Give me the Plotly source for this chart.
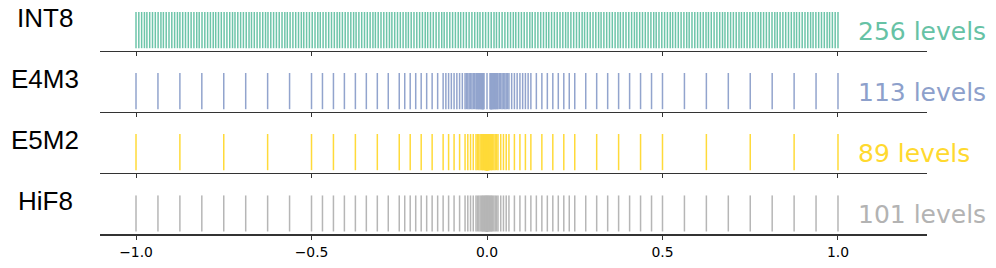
import plotly.graph_objects as go

FORMATS = ["INT8", "E4M3", "E5M2", "HiF8"]
COLORS = ["#66c2a5", "#8da0cb", "#ffd92f", "#b3b3b3"]
LEVEL_LABELS = ["256 levels", "113 levels", "89 levels", "101 levels"]
X_TICKS = [-1.0, -0.5, 0.0, 0.5, 1.0]
X_TICK_TEXT = ["\u22121.0", "\u22120.5", "0.0", "0.5", "1.0"]

INT8_LEVELS = [
    -1.000, -0.992, -0.984, -0.976, -0.969, -0.961, -0.953, -0.945, -0.937, -0.929,
    -0.922, -0.914, -0.906, -0.898, -0.890, -0.882, -0.875, -0.867, -0.859, -0.851,
    -0.843, -0.835, -0.827, -0.820, -0.812, -0.804, -0.796, -0.788, -0.780, -0.773,
    -0.765, -0.757, -0.749, -0.741, -0.733, -0.725, -0.718, -0.710, -0.702, -0.694,
    -0.686, -0.678, -0.671, -0.663, -0.655, -0.647, -0.639, -0.631, -0.624, -0.616,
    -0.608, -0.600, -0.592, -0.584, -0.576, -0.569, -0.561, -0.553, -0.545, -0.537,
    -0.529, -0.522, -0.514, -0.506, -0.498, -0.490, -0.482, -0.475, -0.467, -0.459,
    -0.451, -0.443, -0.435, -0.427, -0.420, -0.412, -0.404, -0.396, -0.388, -0.380,
    -0.373, -0.365, -0.357, -0.349, -0.341, -0.333, -0.325, -0.318, -0.310, -0.302,
    -0.294, -0.286, -0.278, -0.271, -0.263, -0.255, -0.247, -0.239, -0.231, -0.224,
    -0.216, -0.208, -0.200, -0.192, -0.184, -0.176, -0.169, -0.161, -0.153, -0.145,
    -0.137, -0.129, -0.122, -0.114, -0.106, -0.098, -0.090, -0.082, -0.075, -0.067,
    -0.059, -0.051, -0.043, -0.035, -0.027, -0.020, -0.012, -0.004,
    0.004, 0.012, 0.020, 0.027, 0.035, 0.043, 0.051, 0.059, 0.067, 0.075,
    0.082, 0.090, 0.098, 0.106, 0.114, 0.122, 0.129, 0.137, 0.145, 0.153,
    0.161, 0.169, 0.176, 0.184, 0.192, 0.200, 0.208, 0.216, 0.224, 0.231,
    0.239, 0.247, 0.255, 0.263, 0.271, 0.278, 0.286, 0.294, 0.302, 0.310,
    0.318, 0.325, 0.333, 0.341, 0.349, 0.357, 0.365, 0.373, 0.380, 0.388,
    0.396, 0.404, 0.412, 0.420, 0.427, 0.435, 0.443, 0.451, 0.459, 0.467,
    0.475, 0.482, 0.490, 0.498, 0.506, 0.514, 0.522, 0.529, 0.537, 0.545,
    0.553, 0.561, 0.569, 0.576, 0.584, 0.592, 0.600, 0.608, 0.616, 0.624,
    0.631, 0.639, 0.647, 0.655, 0.663, 0.671, 0.678, 0.686, 0.694, 0.702,
    0.710, 0.718, 0.725, 0.733, 0.741, 0.749, 0.757, 0.765, 0.773, 0.780,
    0.788, 0.796, 0.804, 0.812, 0.820, 0.827, 0.835, 0.843, 0.851, 0.859,
    0.867, 0.875, 0.882, 0.890, 0.898, 0.906, 0.914, 0.922, 0.929, 0.937,
    0.945, 0.953, 0.961, 0.969, 0.976, 0.984, 0.992, 1.000,
]

E4M3_LEVELS = [
    -1.0, -0.9375, -0.875, -0.8125, -0.75, -0.6875, -0.625, -0.5625, -0.5,
    -0.4688, -0.4375, -0.4063, -0.375, -0.3438, -0.3125, -0.2813, -0.25,
    -0.2344, -0.2188, -0.2031, -0.1875, -0.1719, -0.1563, -0.1406, -0.125,
    -0.1172, -0.1094, -0.1016, -0.0938, -0.0859, -0.0781, -0.0703, -0.0625,
    -0.0586, -0.0547, -0.0508, -0.0469, -0.0430, -0.0391, -0.0352, -0.0313,
    -0.0293, -0.0273, -0.0254, -0.0234, -0.0215, -0.0195, -0.0176, -0.0156,
    -0.0146, -0.0137, -0.0127, -0.0117, -0.0107, -0.0098, -0.0088,
    0.0,
    0.0088, 0.0098, 0.0107, 0.0117, 0.0127, 0.0137, 0.0146,
    0.0156, 0.0176, 0.0195, 0.0215, 0.0234, 0.0254, 0.0273, 0.0293,
    0.0313, 0.0352, 0.0391, 0.0430, 0.0469, 0.0508, 0.0547, 0.0586,
    0.0625, 0.0703, 0.0781, 0.0859, 0.0938, 0.1016, 0.1094, 0.1172,
    0.125, 0.1406, 0.1563, 0.1719, 0.1875, 0.2031, 0.2188, 0.2344,
    0.25, 0.2813, 0.3125, 0.3438, 0.375, 0.4063, 0.4375, 0.4688,
    0.5, 0.5625, 0.625, 0.6875, 0.75, 0.8125, 0.875, 0.9375, 1.0,
]

E5M2_LEVELS = [
    -1.0, -0.875, -0.75, -0.625, -0.5, -0.4375, -0.375, -0.3125, -0.25,
    -0.2188, -0.1875, -0.1563, -0.125, -0.1094, -0.0938, -0.0781, -0.0625,
    -0.0547, -0.0469, -0.0391, -0.0313, -0.0273, -0.0234, -0.0195, -0.0156,
    -0.0137, -0.0117, -0.0098, -0.0078, -0.0068, -0.0059, -0.0049, -0.0039,
    -0.0034, -0.0029, -0.0024, -0.0020, -0.0017, -0.0015, -0.0012, -0.0010,
    -0.0009, -0.0007, -0.0006,
    0.0,
    0.0006, 0.0007, 0.0009,
    0.0010, 0.0012, 0.0015, 0.0017, 0.0020, 0.0024, 0.0029, 0.0034,
    0.0039, 0.0049, 0.0059, 0.0068, 0.0078, 0.0098, 0.0117, 0.0137,
    0.0156, 0.0195, 0.0234, 0.0273, 0.0313, 0.0391, 0.0469, 0.0547,
    0.0625, 0.0781, 0.0938, 0.1094, 0.125, 0.1563, 0.1875, 0.2188,
    0.25, 0.3125, 0.375, 0.4375, 0.5, 0.625, 0.75, 0.875, 1.0,
]

HIF8_LEVELS = [
    -1.0, -0.9375, -0.875, -0.8125, -0.75, -0.6875, -0.625, -0.5625, -0.5,
    -0.4688, -0.4375, -0.4063, -0.375, -0.3438, -0.3125, -0.2813, -0.25,
    -0.2344, -0.2188, -0.2031, -0.1875, -0.1719, -0.1563, -0.1406, -0.125,
    -0.1094, -0.0938, -0.0781, -0.0625, -0.0547, -0.0469, -0.0391, -0.0313,
    -0.0273, -0.0234, -0.0195, -0.0156, -0.0137, -0.0117, -0.0098, -0.0078,
    -0.0059, -0.0039, -0.0029, -0.0020, -0.0015, -0.0010, -0.0007, -0.0005,
    -0.0002,
    0.0,
    0.0002, 0.0005, 0.0007, 0.0010, 0.0015, 0.0020, 0.0029, 0.0039, 0.0059,
    0.0078, 0.0098, 0.0117, 0.0137, 0.0156, 0.0195, 0.0234, 0.0273,
    0.0313, 0.0391, 0.0469, 0.0547, 0.0625, 0.0781, 0.0938, 0.1094,
    0.125, 0.1406, 0.1563, 0.1719, 0.1875, 0.2031, 0.2188, 0.2344,
    0.25, 0.2813, 0.3125, 0.3438, 0.375, 0.4063, 0.4375, 0.4688,
    0.5, 0.5625, 0.625, 0.6875, 0.75, 0.8125, 0.875, 0.9375, 1.0,
]

ALL_LEVELS = [INT8_LEVELS, E4M3_LEVELS, E5M2_LEVELS, HIF8_LEVELS]

W, H = 996, 268
ROW_BOTTOM_PX = [50.7, 111.7, 172.7, 234.0]
ROW_HEIGHT_PX = 38.7
X_LEFT_PX, X_RIGHT_PX = 100, 927
LABEL_CENTER_PX = 45
AXIS_COLOR = "#333333"

fig = go.Figure()
layout = {}
annotations = []

for i, (name, color, lab, levels) in enumerate(zip(FORMATS, COLORS, LEVEL_LABELS, ALL_LEVELS)):
    n = i + 1
    xs, ys = [], []
    for v in levels:
        xs += [v, v, None]
        ys += [0, 1, None]
    fig.add_trace(go.Scatter(
        x=xs, y=ys, mode="lines",
        line=dict(color=color, width=1.5),
        opacity=0.95,
        xaxis=f"x{n}", yaxis=f"y{n}",
        hoverinfo="skip", showlegend=False,
    ))
    bottom = ROW_BOTTOM_PX[i]
    top = bottom - ROW_HEIGHT_PX
    xkey = "xaxis" if n == 1 else f"xaxis{n}"
    ykey = "yaxis" if n == 1 else f"yaxis{n}"
    layout[xkey] = dict(
        domain=[X_LEFT_PX / W, X_RIGHT_PX / W],
        range=[-1.1026, 1.2536],
        anchor=f"y{n}",
        showline=True, linecolor=AXIS_COLOR, linewidth=1.5,
        ticks="outside", ticklen=4, tickwidth=1, tickcolor=AXIS_COLOR,
        tickvals=X_TICKS, ticktext=X_TICK_TEXT,
        showticklabels=(n == 4),
        ticklabelstandoff=1,
        showgrid=False, zeroline=False, fixedrange=True,
        tickfont=dict(family="DejaVu Sans", size=13.9, color="black"),
    )
    layout[ykey] = dict(
        domain=[1 - bottom / H, 1 - top / H],
        range=[-0.07, 1.0],
        anchor=f"x{n}",
        visible=False, fixedrange=True,
    )
    # format name on the left
    annotations.append(dict(
        text=name, xref="paper", yref="paper",
        x=LABEL_CENTER_PX / W, y=1 - (top + 5.5) / H,
        xanchor="center", yanchor="middle", showarrow=False,
        font=dict(family="Liberation Sans", size=26, color="black"),
    ))
    # level count on the right
    annotations.append(dict(
        text=lab, xref=f"x{n}", yref=f"y{n}",
        x=1.05, y=0.47, xanchor="left", yanchor="middle", showarrow=False,
        font=dict(family="DejaVu Sans", size=25, color=color),
    ))

fig.update_layout(
    width=W, height=H, autosize=False,
    margin=dict(l=0, r=0, t=0, b=0),
    paper_bgcolor="white", plot_bgcolor="white",
    annotations=annotations,
    hovermode=False,
    **layout,
)

# Remove the browser's default 8px page margin so the figure fills the window.
fig.write_html(
    "out.html",
    config={"displayModeBar": False, "staticPlot": True},
    post_script="document.body.style.margin='0';",
)
